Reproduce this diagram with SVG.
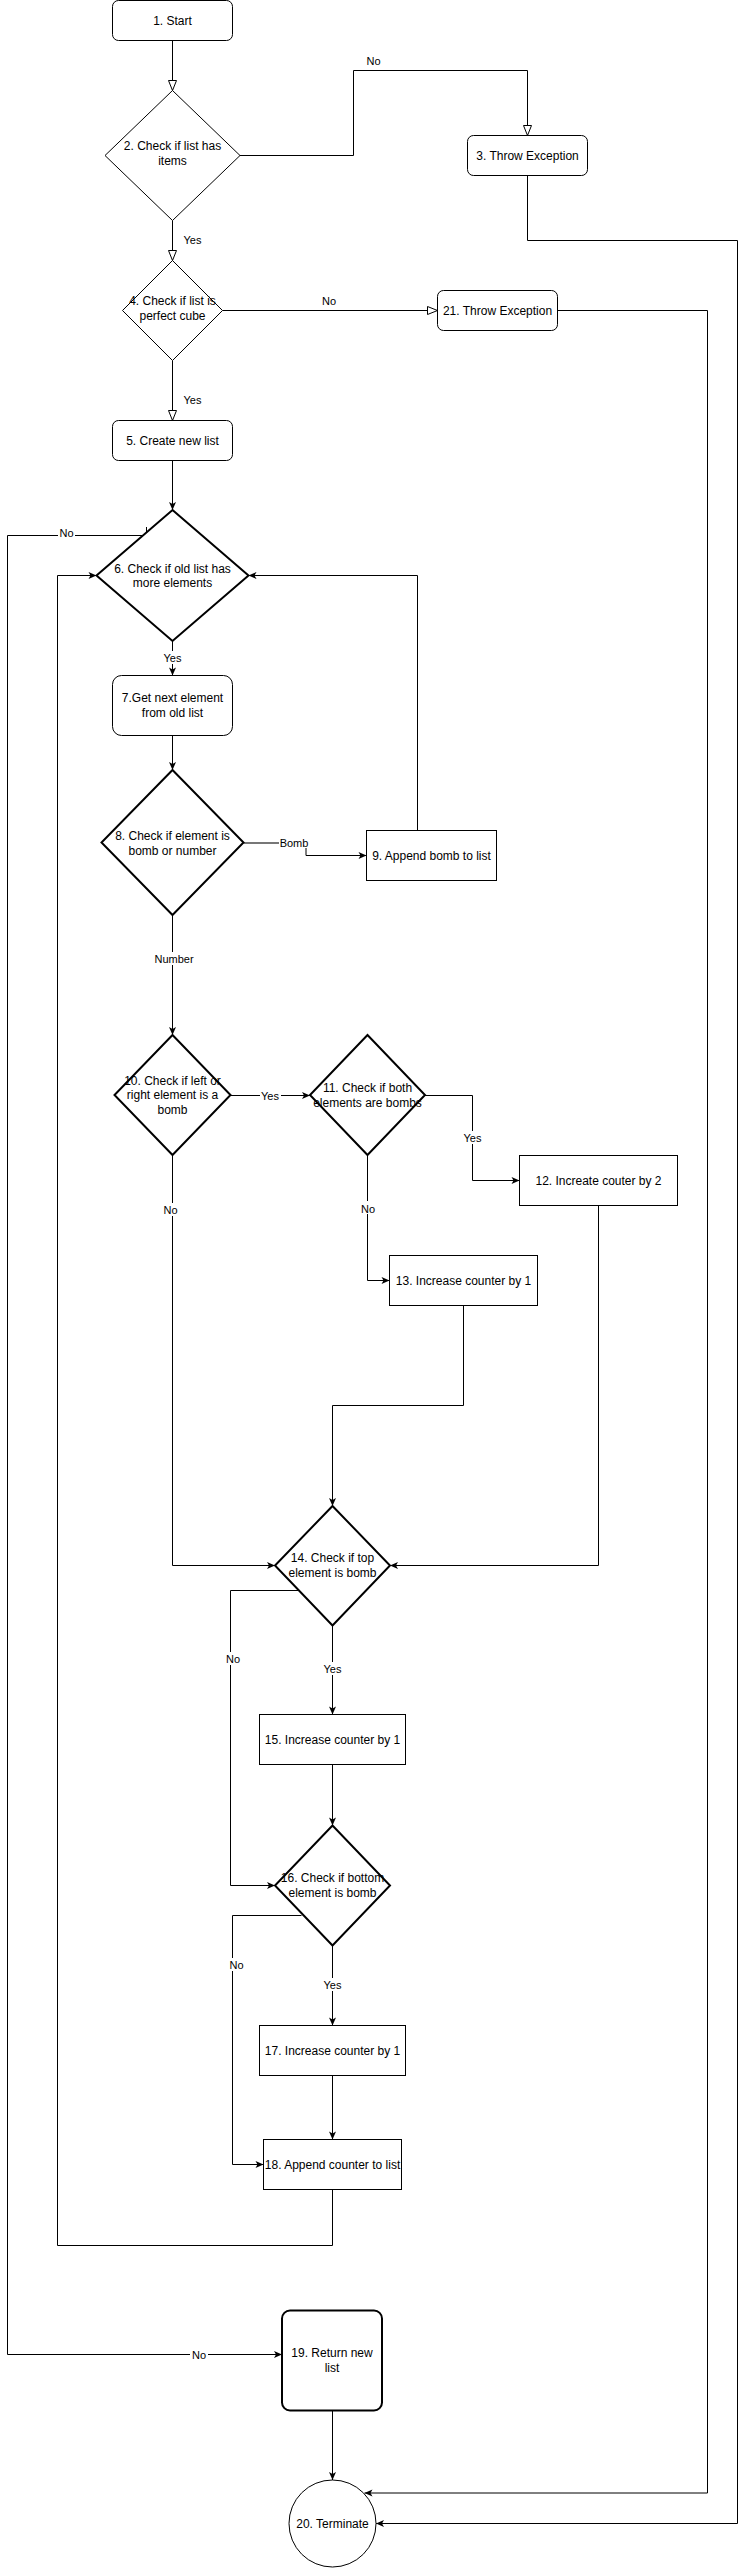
<svg xmlns="http://www.w3.org/2000/svg" width="747" height="2568" viewBox="0 0 747 2568">
<style>
.n{fill:#fff;stroke:#000;stroke-width:1}
.t{stroke-width:2}
.tx{font-family:"Liberation Sans",Arial,sans-serif;font-size:12px;fill:#000;text-anchor:middle}
.e{fill:none;stroke:#000;stroke-width:1}
.lb{font-family:"Liberation Sans",Arial,sans-serif;font-size:11px;fill:#000;text-anchor:middle}
.bg{fill:#fff;stroke:none}
</style>
<defs>
<marker id="tri" viewBox="0 0 11 9" refX="10.5" refY="4.5" markerWidth="11" markerHeight="9" orient="auto" markerUnits="userSpaceOnUse" overflow="visible">
<path d="M0.5,0.5 L10.5,4.5 L0.5,8.5 Z" fill="#fff" stroke="#000" stroke-width="1"/>
</marker>
<marker id="arr" viewBox="0 0 8 8" refX="8" refY="4" markerWidth="8" markerHeight="8" orient="auto" markerUnits="userSpaceOnUse" overflow="visible">
<path d="M0,0.5 L8,4 L0,7.5 L2,4 Z" fill="#000"/>
</marker>
</defs>
<rect width="747" height="2568" fill="#fff"/>

<g id="connectors">
<path class="e" d="M172.5 40.5 V90.5" marker-end="url(#tri)"/>
<path class="e" d="M240 155.5 H353.5 V70.5 H527.5 V135.5" marker-end="url(#tri)"/>
<text class="lb" x="373.5" y="64.5">No</text>
<path class="e" d="M172.5 220.5 V260.5" marker-end="url(#tri)"/>
<text class="lb" x="192.5" y="244">Yes</text>
<path class="e" d="M222.5 310.5 H437.5" marker-end="url(#tri)"/>
<text class="lb" x="329" y="304.5">No</text>
<path class="e" d="M172.5 360.5 V420.5" marker-end="url(#tri)"/>
<text class="lb" x="192.5" y="404">Yes</text>
<path class="e" d="M527.5 175.5 V240.5 H737.5 V2523.5 H376" marker-end="url(#arr)"/>
<path class="e" d="M557.5 310.5 H707.5 V2493 H364.5" marker-end="url(#arr)"/>
<path class="e" d="M172.5 460.5 V510" marker-end="url(#arr)"/>
<path class="e" d="M146.5 527 V535.5 H7.5 V2354.5 H282" marker-end="url(#arr)"/>
<rect class="bg" x="58" y="526" width="17" height="13"/>
<text class="lb" x="66.5" y="536.5">No</text>
<rect class="bg" x="190" y="2348" width="18" height="13"/>
<text class="lb" x="199" y="2359">No</text>
<path class="e" d="M172.5 641 V675.5" marker-end="url(#arr)"/>
<rect class="bg" x="162" y="651" width="21" height="13"/>
<text class="lb" x="172.5" y="662">Yes</text>
<path class="e" d="M172.5 735.5 V770" marker-end="url(#arr)"/>
<path d="M243.5 843 H306" fill="none" stroke="#777" stroke-width="2"/>
<path class="e" d="M306 843 V855.5 H366.5" marker-end="url(#arr)"/>
<rect class="bg" x="279" y="835" width="31" height="13"/>
<text class="lb" x="294" y="846.5">Bomb</text>
<path class="e" d="M417.5 830.5 V575.5 H248.5" marker-end="url(#arr)"/>
<path class="e" d="M172.5 915 V1035" marker-end="url(#arr)"/>
<rect class="bg" x="153" y="952" width="42" height="13"/>
<text class="lb" x="174" y="963">Number</text>
<path class="e" d="M230.5 1095.5 H310" marker-end="url(#arr)"/>
<rect class="bg" x="260" y="1089" width="21" height="13"/>
<text class="lb" x="270" y="1099.5">Yes</text>
<path class="e" d="M425 1095.5 H472.5 V1180.5 H519.5" marker-end="url(#arr)"/>
<rect class="bg" x="462" y="1131" width="21" height="13"/>
<text class="lb" x="472.5" y="1142">Yes</text>
<path class="e" d="M367.5 1155 V1280.5 H389.5" marker-end="url(#arr)"/>
<rect class="bg" x="359" y="1201" width="17" height="13"/>
<text class="lb" x="368" y="1212.5">No</text>
<path class="e" d="M172.5 1155 V1565.5 H275" marker-end="url(#arr)"/>
<rect class="bg" x="162" y="1203" width="17" height="13"/>
<text class="lb" x="170.5" y="1214">No</text>
<path class="e" d="M463.5 1305.5 V1405.5 H332.5 V1506" marker-end="url(#arr)"/>
<path class="e" d="M598.5 1205.5 V1565.5 H390" marker-end="url(#arr)"/>
<path class="e" d="M299 1590.5 H230.5 V1885.5 H275" marker-end="url(#arr)"/>
<rect class="bg" x="224" y="1652" width="18" height="13"/>
<text class="lb" x="233" y="1663">No</text>
<path class="e" d="M332.5 1625.5 V1714.5" marker-end="url(#arr)"/>
<rect class="bg" x="322" y="1662" width="21" height="13"/>
<text class="lb" x="332.5" y="1673">Yes</text>
<path class="e" d="M332.5 1764.5 V1825.5" marker-end="url(#arr)"/>
<path class="e" d="M301.5 1915.5 H232.5 V2164.5 H263.5" marker-end="url(#arr)"/>
<rect class="bg" x="228" y="1958" width="18" height="13"/>
<text class="lb" x="236.5" y="1969">No</text>
<path class="e" d="M332.5 1945.5 V2025.5" marker-end="url(#arr)"/>
<rect class="bg" x="322" y="1978" width="21" height="13"/>
<text class="lb" x="332.5" y="1989">Yes</text>
<path class="e" d="M332.5 2075.5 V2139.5" marker-end="url(#arr)"/>
<path class="e" d="M332.5 2189.5 V2245.5 H57.5 V575.5 H96.5" marker-end="url(#arr)"/>
<path class="e" d="M332.5 2410.5 V2480" marker-end="url(#arr)"/>
</g>

<g id="n1"><rect class="n" x="112.5" y="0.5" width="120" height="40" rx="6"/><text class="tx" x="172.5" y="24.5">1. Start</text></g>
<g id="n2"><polygon class="n" points="172.5,90.5 240,155.5 172.5,220.5 105,155.5"/><text class="tx" x="172.5" y="150">2. Check if list has</text><text class="tx" x="172.5" y="165">items</text></g>
<g id="n3"><rect class="n" x="467.5" y="135.5" width="120" height="40" rx="6"/><text class="tx" x="527.5" y="159.5">3. Throw Exception</text></g>
<g id="n4"><polygon class="n" points="172.5,260.5 222.5,310.5 172.5,360.5 122.5,310.5"/><text class="tx" x="172.5" y="305">4. Check if list is</text><text class="tx" x="172.5" y="320">perfect cube</text></g>
<g id="n21"><rect class="n" x="437.5" y="290.5" width="120" height="40" rx="6"/><text class="tx" x="497.5" y="314.5">21. Throw Exception</text></g>
<g id="n5"><rect class="n" x="112.5" y="420.5" width="120" height="40" rx="6"/><text class="tx" x="172.5" y="444.5">5. Create new list</text></g>
<g id="n6"><polygon class="n t" points="172.5,510 248.5,575.5 172.5,641 96.5,575.5"/><text class="tx" x="172.5" y="572.5">6. Check if old list has</text><text class="tx" x="172.5" y="586.5">more elements</text></g>
<g id="n7"><rect class="n" x="112.5" y="675.5" width="120" height="60" rx="9"/><text class="tx" x="172.5" y="702">7.Get next element</text><text class="tx" x="172.5" y="716.5">from old list</text></g>
<g id="n8"><polygon class="n t" points="172.5,770 243.5,842.5 172.5,915 101.5,842.5"/><text class="tx" x="172.5" y="840">8. Check if element is</text><text class="tx" x="172.5" y="855">bomb or number</text></g>
<g id="n9"><rect class="n" x="366.5" y="830.5" width="130" height="50"/><text class="tx" x="431.5" y="859.5">9. Append bomb to list</text></g>
<g id="n10"><polygon class="n t" points="172.5,1035 230.5,1095 172.5,1155 114.5,1095"/><text class="tx" x="172.5" y="1084.5">10. Check if left or</text><text class="tx" x="172.5" y="1099">right element is a</text><text class="tx" x="172.5" y="1114">bomb</text></g>
<g id="n11"><polygon class="n t" points="367.5,1035 425,1095 367.5,1155 310,1095"/><text class="tx" x="367.5" y="1092">11. Check if both</text><text class="tx" x="367.5" y="1106.5">elements are bombs</text></g>
<g id="n12"><rect class="n" x="519.5" y="1155.5" width="158" height="50"/><text class="tx" x="598.5" y="1184.5">12. Increate couter by 2</text></g>
<g id="n13"><rect class="n" x="389.5" y="1255.5" width="148" height="50"/><text class="tx" x="463.5" y="1284.5">13. Increase counter by 1</text></g>
<g id="n14"><polygon class="n t" points="332.5,1506 390,1565.5 332.5,1625.5 275,1565.5"/><text class="tx" x="332.5" y="1562">14. Check if top</text><text class="tx" x="332.5" y="1577">element is bomb</text></g>
<g id="n15"><rect class="n" x="259.5" y="1714.5" width="146" height="50"/><text class="tx" x="332.5" y="1743.5">15. Increase counter by 1</text></g>
<g id="n16"><polygon class="n t" points="332.5,1825.5 390,1885.5 332.5,1945.5 275,1885.5"/><text class="tx" x="332.5" y="1882">16. Check if bottom</text><text class="tx" x="332.5" y="1897">element is bomb</text></g>
<g id="n17"><rect class="n" x="259.5" y="2025.5" width="146" height="50"/><text class="tx" x="332.5" y="2054.5">17. Increase counter by 1</text></g>
<g id="n18"><rect class="n" x="263.5" y="2139.5" width="138" height="50"/><text class="tx" x="332.5" y="2168.5">18. Append counter to list</text></g>
<g id="n19"><rect class="n t" x="282" y="2310.5" width="100" height="100" rx="8"/><text class="tx" x="332" y="2356.5">19. Return new</text><text class="tx" x="332" y="2371.5">list</text></g>
<g id="n20"><circle class="n" cx="332.5" cy="2523.5" r="43.5"/><text class="tx" x="332.5" y="2527.5">20. Terminate</text></g>
</svg>
